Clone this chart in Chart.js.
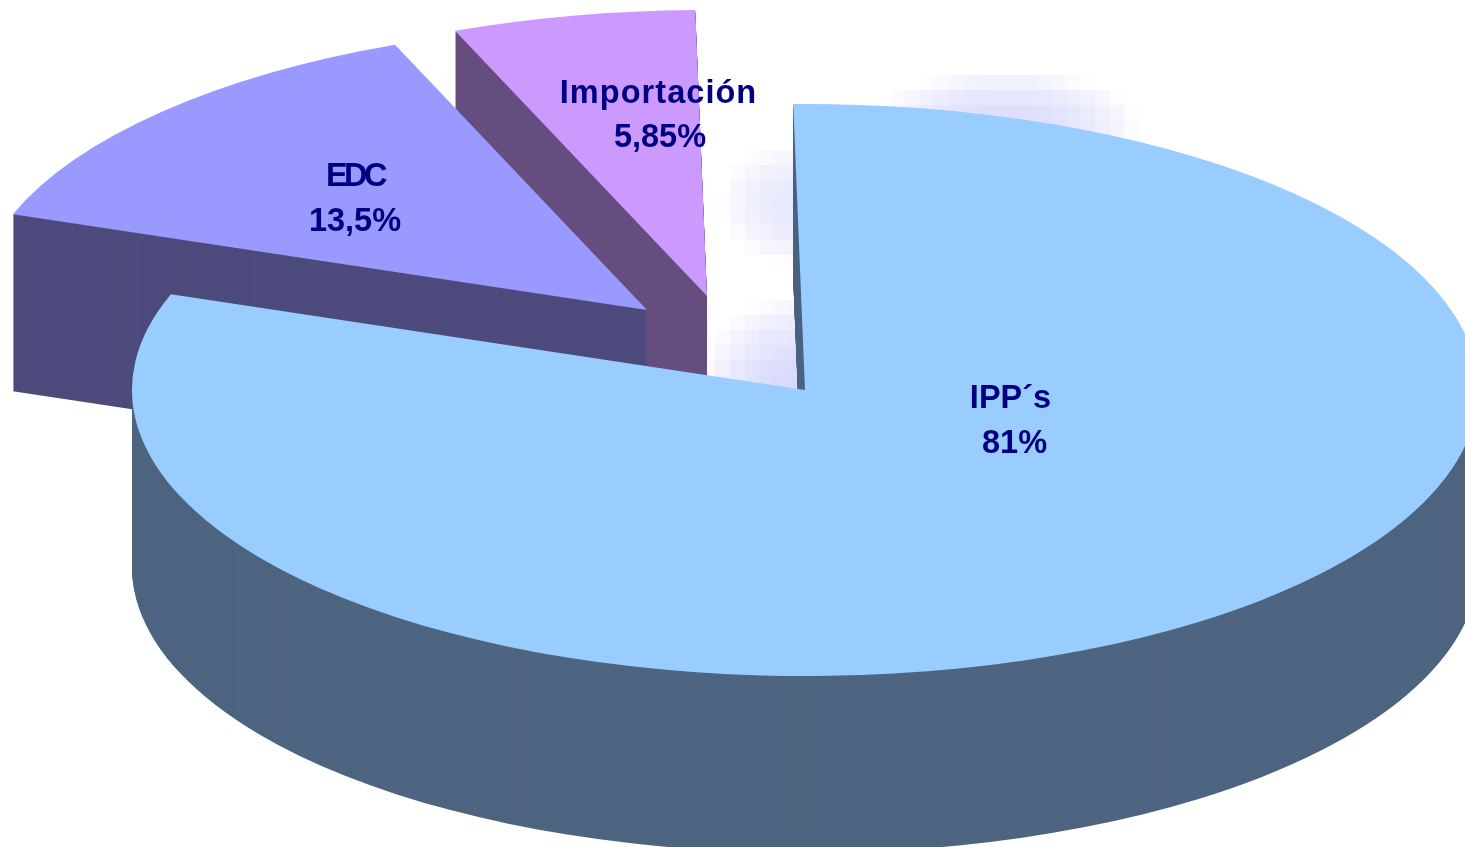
<!DOCTYPE html>
<html>
<head>
<meta charset="utf-8">
<style>html,body{margin:0;padding:0;background:#fff;overflow:hidden}canvas{display:block}</style>
<script src="https://cdn.jsdelivr.net/npm/chart.js@4"></script>
</head>
<body>
<canvas id="c" width="1465" height="847"></canvas>
<script>
const categories = ['IPP´s', 'EDC', 'Importación'];
const values = [81, 13.5, 5.85];
const percentLabels = ['81%', '13,5%', '5,85%'];
const topColors = ['#99CCFF', '#9999FF', '#CC99FF'];
const wallColors = ['#4E6580', '#4D4B7C', '#654D7F'];

// projection of the flat pie into the 3D view
const view = { cx: 805, cy: 390, rx: 673, ry: 286, depth: 177 };
const sliceShift = [[0, 0], [-158, -80], [-98, -94]];
const drawOrder = [2, 1, 0];
const labelStyle = [
  { name: [1010.5, 408, 0], pct: [1014.5, 453, 0] },
  { name: [355, 186, -3.5], pct: [355, 231, 0] },
  { name: [658.5, 103, 1.05], pct: [660, 147, 0] }
];
// faint blocky compression haze behind the slices: centre x, y, half-width, half-height, strength
const haze = [
  [1005, 125, 135, 55, 0.62],
  [795, 205, 75, 62, 0.42],
  [800, 400, 105, 105, 0.72]
];
const hazeCell = [14.6, 15];

function drawArc(ctx, arc, idx, dy, color) {
  const saved = arc.options;
  const o = Object.create(saved);
  o.backgroundColor = color;
  o.borderWidth = 0;
  arc.options = o;
  ctx.save();
  ctx.translate(view.cx + sliceShift[idx][0], view.cy + sliceShift[idx][1] + dy);
  ctx.scale(view.rx / arc.outerRadius, view.ry / arc.outerRadius);
  ctx.translate(-arc.x, -arc.y);
  arc.draw(ctx);
  ctx.restore();
  arc.options = saved;
}

const pie3d = {
  id: 'pie3d',
  beforeDatasetsDraw(chart) {
    const ctx = chart.ctx;
    const arcs = chart.getDatasetMeta(0).data;
    const [cw, ch] = hazeCell;
    haze.forEach(([x, y, a, b, s]) => {
      for (let gx = Math.floor((x - a) / cw); gx * cw < x + a; gx++) {
        for (let gy = Math.floor((y - b) / ch); gy * ch < y + b; gy++) {
          const x0 = Math.round(gx * cw), x1 = Math.round((gx + 1) * cw);
          const y0 = Math.round(gy * ch), y1 = Math.round((gy + 1) * ch);
          const d = Math.hypot(((x0 + x1) / 2 - x) / a, ((y0 + y1) / 2 - y) / b);
          if (d >= 1) continue;
          ctx.fillStyle = 'rgba(200,200,252,' + (s * (1 - d * d)).toFixed(3) + ')';
          ctx.fillRect(x0, y0, x1 - x0, y1 - y0);
        }
      }
    });
    drawOrder.forEach(i => {
      for (let dy = view.depth; dy > 0; dy--) drawArc(ctx, arcs[i], i, dy, wallColors[i]);
      drawArc(ctx, arcs[i], i, 0, topColors[i]);
    });
    ctx.save();
    ctx.fillStyle = '#000080';
    ctx.font = 'bold 32.5px "Liberation Sans", Arial, sans-serif';
    ctx.textAlign = 'center';
    ctx.textBaseline = 'alphabetic';
    categories.forEach((name, i) => {
      const s = labelStyle[i];
      ctx.letterSpacing = s.name[2] + 'px';
      ctx.fillText(name, s.name[0], s.name[1]);
      ctx.letterSpacing = s.pct[2] + 'px';
      ctx.fillText(percentLabels[i], s.pct[0], s.pct[1]);
    });
    ctx.restore();
    return false;
  }
};

new Chart(document.getElementById('c'), {
  type: 'pie',
  data: {
    labels: categories,
    datasets: [{ data: values, backgroundColor: topColors, borderWidth: 0 }]
  },
  options: {
    responsive: false,
    animation: false,
    rotation: -1,
    layout: { padding: 0 },
    plugins: { legend: { display: false }, tooltip: { enabled: false } }
  },
  plugins: [pie3d]
});
</script>
</body>
</html>
